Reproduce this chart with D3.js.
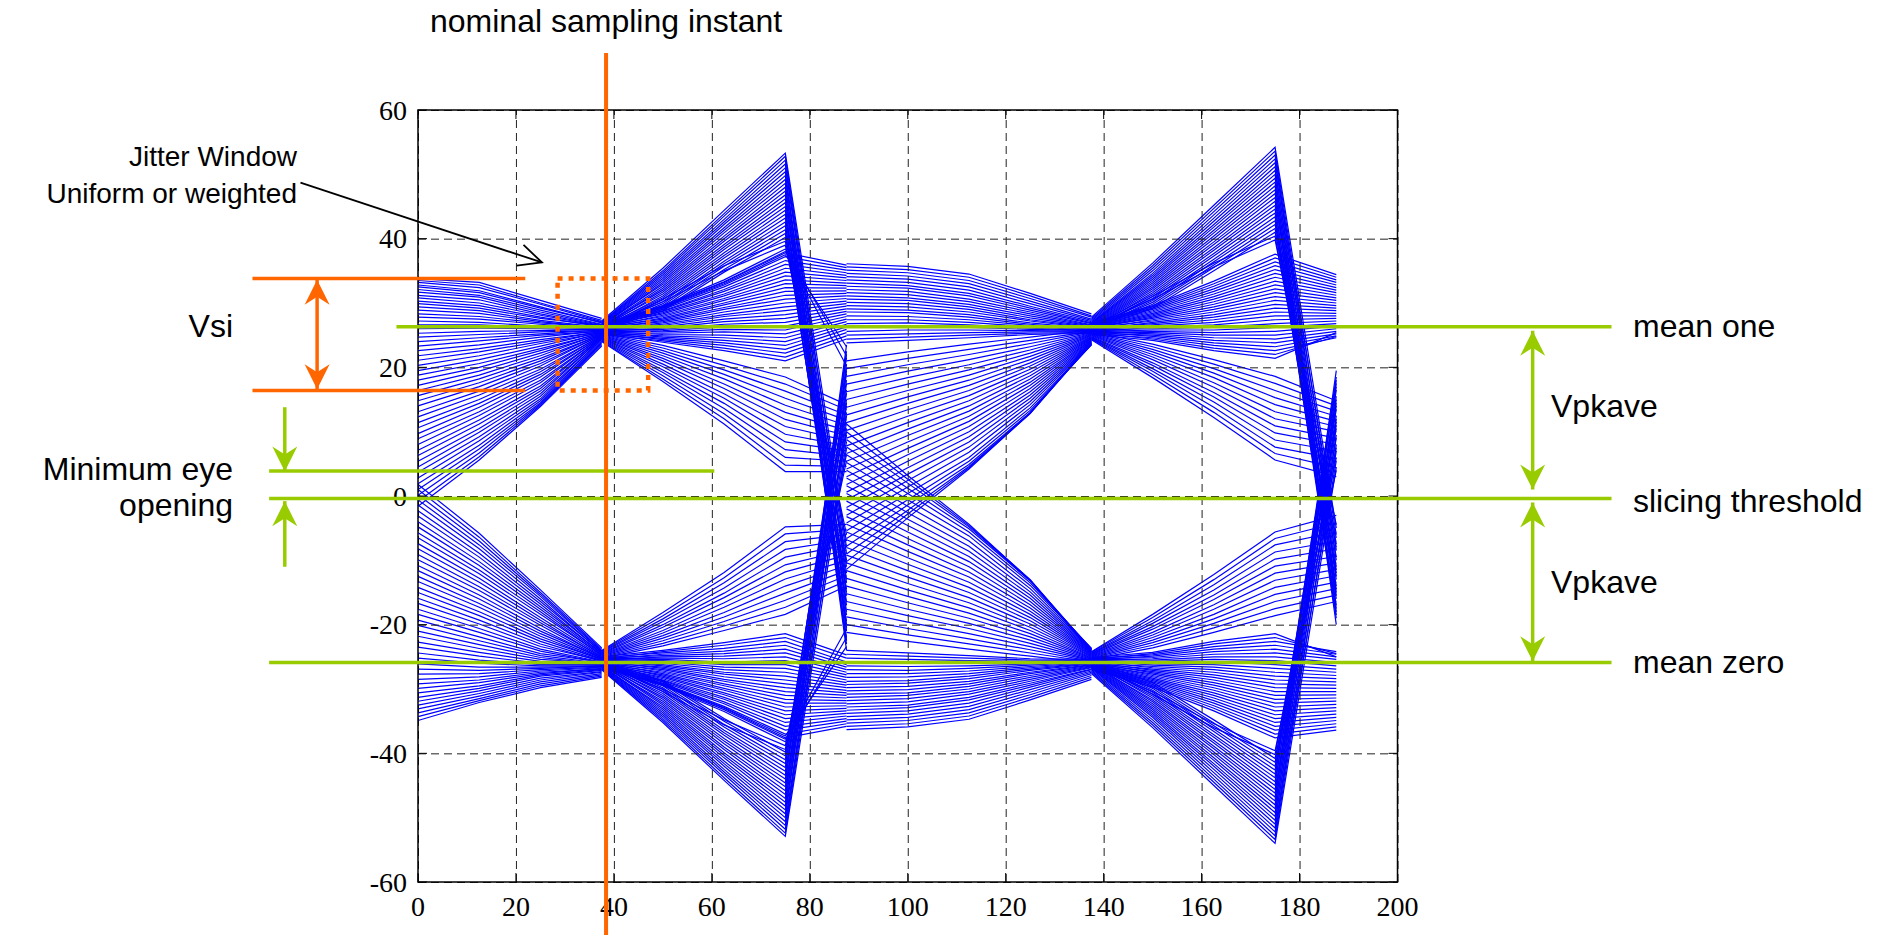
<!DOCTYPE html>
<html>
<head>
<meta charset="utf-8">
<script src="https://cdn.jsdelivr.net/npm/d3@7"></script>
<style>
  body { margin: 0; background: #fff; overflow: hidden; }
  svg { display: block; }
  .note { font-family: "Liberation Sans", Arial, sans-serif; font-size: 32px; fill: #000; }
  .note.small { font-size: 28px; }
  .tick-label { font-family: "Liberation Serif", "Times New Roman", Times, "DejaVu Serif", serif; font-size: 28px; fill: #000; }
</style>
</head>
<body>
<svg id="chart" width="1885" height="935"></svg>
<script>
// sample instants of the four trace segments (converge / diverge+edge)
const sampleA = [0, 12.5, 25, 37.5];
const sampleB = [37.5, 50, 62.5, 75, 87.5];
const sampleD = [87.5, 100, 112.5, 125, 137.5];
const sampleE = [137.5, 150, 162.5, 175, 187.5];

// traces, one row per trace
const tracesA = [
  [33.8,33.2,30.4,27.6],[33.5,32.8,30.0,27.3],[33.2,32.4,29.8,27.1],[32.8,31.9,29.4,26.9],[32.5,31.6,29.2,27.0],
  [32.1,31.2,28.9,26.7],[31.7,30.9,28.6,26.6],[31.2,30.5,28.3,26.5],[30.8,30.0,28.1,26.4],[30.3,29.6,27.8,26.3],
  [29.9,29.2,27.6,26.5],[29.4,28.8,27.3,26.2],[28.9,28.4,27.1,26.1],[28.3,27.9,26.9,26.2],[27.8,27.5,26.7,26.0],
  [27.2,27.0,26.4,25.9],[26.6,26.6,26.2,26.0],[26.0,26.1,26.0,25.8],[25.3,25.6,25.7,25.9],[24.7,25.1,25.5,25.7],
  [24.0,24.6,25.2,25.8],[23.3,24.1,25.0,25.6],[22.6,23.5,24.7,25.7],[21.8,22.9,24.3,25.5],[21.1,22.4,24.0,25.6],
  [20.3,21.8,23.7,25.4],[19.5,21.2,23.3,25.5],[18.8,20.6,22.9,25.3],[18.0,20.0,22.6,25.4],[17.2,19.4,22.2,25.2],
  [16.4,18.8,21.8,25.3],[15.6,18.2,21.4,25.1],[14.8,17.6,21.0,25.2],[14.0,17.0,20.6,25.0],[13.1,16.3,20.2,25.1],
  [12.3,15.7,19.7,24.9],[11.4,15.0,19.3,25.0],[10.6,14.4,18.9,24.8],[9.7,13.8,18.5,24.9],[8.9,13.1,18.0,24.7],
  [8.0,12.5,17.6,24.8],[7.1,11.8,17.1,24.6],[6.3,11.2,16.7,24.7],[5.4,10.5,16.3,24.5],[4.5,9.9,15.9,24.6],
  [3.7,9.2,15.5,24.3],[2.8,8.6,15.1,24.4],[1.9,7.9,14.8,24.1],[1.0,7.3,14.5,23.9],[0.1,6.7,14.3,23.7],
  [-0.8,6.1,14.1,23.5],[-1.6,5.6,13.9,23.3],
  [1.8,-5.8,-14.6,-23.6],[1.0,-6.4,-15.0,-23.8],[0.2,-7.0,-15.3,-24.0],[-0.6,-7.6,-15.6,-24.1],[-1.4,-8.2,-16.0,-24.3],
  [-2.3,-8.9,-16.4,-24.2],[-3.1,-9.5,-16.8,-24.5],[-4.0,-10.2,-17.2,-24.4],[-4.8,-10.8,-17.6,-24.6],[-5.7,-11.5,-18.0,-24.8],
  [-6.5,-12.1,-18.4,-24.7],[-7.4,-12.8,-18.9,-24.9],[-8.2,-13.4,-19.3,-25.1],[-9.1,-14.1,-19.7,-25.0],[-9.9,-14.7,-20.1,-25.2],
  [-10.8,-15.4,-20.6,-25.3],[-11.6,-16.0,-21.0,-25.2],[-12.5,-16.7,-21.4,-25.4],[-13.3,-17.3,-21.8,-25.5],[-14.2,-18.0,-22.2,-25.4],
  [-15.0,-18.6,-22.6,-25.6],[-15.9,-19.3,-23.0,-25.7],[-16.7,-19.9,-23.4,-25.6],[-17.6,-20.6,-23.8,-25.8],[-18.4,-21.2,-24.1,-25.9],
  [-19.3,-21.9,-24.5,-25.8],[-20.1,-22.5,-24.8,-26.0],[-21.0,-23.1,-25.1,-26.1],[-21.8,-23.7,-25.4,-26.0],[-22.7,-24.3,-25.7,-26.2],
  [-23.5,-24.9,-26.0,-26.3],[-24.4,-25.5,-26.2,-26.2],[-25.2,-26.0,-26.4,-26.4],[-26.1,-26.6,-26.6,-26.5],[-26.9,-27.1,-26.8,-26.4],
  [-27.7,-27.6,-27.0,-26.6],[-28.5,-28.1,-27.2,-26.7],[-29.2,-28.6,-27.4,-26.9],[-29.9,-29.0,-27.6,-26.8],[-30.6,-29.5,-27.8,-27.0],
  [-31.3,-29.9,-28.0,-27.1],[-31.9,-30.3,-28.3,-27.3],[-32.5,-30.7,-28.6,-27.4],[-33.1,-31.1,-28.9,-27.6],[-33.7,-31.5,-29.2,-27.8],
  [-34.3,-31.8,-29.5,-28.0],[-34.9,-32.1,-29.8,-28.2]
];

const tracesB = [
  // ones falling at the edge
  [27.2,35.4,44.4,53.3,-8.0],[27.0,35.0,43.9,52.8,-10.5],[26.9,34.7,43.5,52.2,-13.0],[26.8,34.4,43.0,51.6,-15.5],
  [26.7,34.1,42.6,51.0,-9.0],[26.6,33.8,42.2,50.4,-18.0],[26.5,33.5,41.7,49.8,-20.5],[26.4,33.2,41.3,49.2,-12.0],
  [26.6,32.9,40.9,48.6,-22.5],[26.3,32.6,40.4,48.0,-14.5],[26.2,32.3,40.0,47.4,-24.0],[26.4,32.0,39.6,46.8,-16.5],
  [26.1,31.7,39.1,46.2,-21.0],[26.3,31.4,38.7,45.6,-11.0],[26.0,31.1,38.3,45.0,-23.0],[26.2,30.8,37.8,44.4,-17.0],
  [25.9,30.5,37.4,43.8,-19.5],[26.1,30.2,37.0,43.2,-13.5],[25.8,29.9,36.5,42.6,-22.0],[26.0,29.6,36.1,42.0,-15.0],
  [25.9,29.3,35.7,41.4,-20.0],[26.1,29.0,35.2,40.8,-18.5],[25.8,28.8,34.8,40.2,-7.0],[26.0,30.6,35.8,39.6,-10.0],
  [26.2,30.2,35.0,39.0,-6.0],
  // ones staying high
  [26.6,29.4,33.2,37.8,35.9],[26.5,29.2,32.8,37.2,35.5],[26.4,29.0,32.5,36.6,35.1],[26.3,28.8,32.1,36.0,34.7],
  [26.5,28.7,31.8,35.4,34.3],[26.2,28.5,31.4,34.8,33.9],[26.4,28.3,31.1,34.2,33.5],[26.1,28.1,30.7,33.6,33.1],
  [26.3,27.9,30.4,33.0,32.7],[26.0,27.7,30.0,32.4,32.3],[26.2,27.5,29.7,31.8,31.9],[25.9,27.3,29.3,31.2,31.5],
  [26.1,27.1,29.0,30.6,31.1],[25.8,26.9,28.6,30.0,30.7],[26.0,26.7,28.2,29.4,30.3],[25.7,26.5,27.9,28.8,29.9],
  [25.9,26.3,27.5,28.2,29.5],[25.6,26.1,27.1,27.6,29.1],[25.8,25.9,26.7,27.0,28.7],[25.5,25.7,26.3,26.4,28.3],
  [25.7,25.5,25.9,25.8,27.9],[25.4,25.3,25.5,25.2,27.5],[25.6,25.1,25.0,24.6,27.1],[25.3,24.9,24.6,24.0,26.7],
  [25.5,24.7,24.2,23.4,26.3],[25.2,24.5,23.8,22.8,25.9],[25.4,24.3,23.4,22.2,25.4],[25.1,24.1,23.0,21.6,24.9],
  [25.3,23.9,22.6,21.0,24.4],[26.7,29.6,33.6,38.4,21.8],[26.6,29.5,33.3,38.0,20.2],[26.5,29.3,33.0,37.5,23.2],
  // ones sagging
  [25.3,23.4,21.0,18.5,14.2],[25.2,23.0,20.3,17.4,13.4],[25.1,22.6,19.6,16.3,12.6],[25.0,22.2,18.9,15.2,11.8],
  [24.9,21.8,18.2,14.1,11.0],[24.8,21.4,17.4,13.0,10.2],[24.7,21.0,16.7,11.9,9.4],[24.6,20.5,15.9,10.8,8.6],
  [24.5,20.1,15.2,9.6,7.8],[24.4,19.6,14.4,8.4,7.0],[24.3,19.2,13.6,7.2,6.2],[24.2,18.7,12.8,6.0,5.4],
  [24.1,18.2,12.0,4.8,4.6],[24.0,17.8,11.2,3.8,3.8],
  // zeros rising at the edge
  [-27.0,-35.2,-44.2,-52.9,7.5],[-26.9,-34.9,-43.8,-52.4,10.0],[-26.8,-34.6,-43.3,-51.8,12.5],[-26.7,-34.3,-42.9,-51.2,15.0],
  [-26.6,-34.0,-42.5,-50.6,8.5],[-26.5,-33.7,-42.0,-50.0,17.5],[-26.4,-33.4,-41.6,-49.4,20.0],[-26.3,-33.1,-41.2,-48.8,11.5],
  [-26.5,-32.8,-40.7,-48.2,22.0],[-26.2,-32.5,-40.3,-47.6,14.0],[-26.1,-32.2,-39.9,-47.0,23.5],[-26.3,-31.9,-39.4,-46.4,16.0],
  [-26.0,-31.6,-39.0,-45.8,20.5],[-26.2,-31.3,-38.5,-45.2,10.5],[-25.9,-31.0,-38.1,-44.6,22.5],[-26.1,-30.7,-37.7,-44.0,16.5],
  [-25.8,-30.4,-37.2,-43.4,19.0],[-26.0,-30.1,-36.8,-42.8,13.0],[-25.7,-29.8,-36.4,-42.2,21.5],[-25.9,-29.5,-35.9,-41.6,14.5],
  [-25.8,-29.2,-35.5,-41.0,19.5],[-26.0,-28.9,-35.0,-40.4,18.0],[-25.7,-28.7,-34.6,-39.8,6.5],[-25.9,-30.4,-35.6,-39.4,9.5],
  [-26.1,-30.0,-34.8,-38.8,5.5],
  // zeros staying low
  [-26.5,-29.3,-33.0,-37.6,-35.8],[-26.4,-29.1,-32.7,-37.0,-35.4],[-26.3,-28.9,-32.3,-36.4,-35.0],[-26.2,-28.7,-32.0,-35.8,-34.6],
  [-26.4,-28.6,-31.6,-35.2,-34.2],[-26.1,-28.4,-31.3,-34.6,-33.8],[-26.3,-28.2,-30.9,-34.0,-33.4],[-26.0,-28.0,-30.6,-33.4,-33.0],
  [-26.2,-27.8,-30.2,-32.8,-32.6],[-25.9,-27.6,-29.9,-32.2,-32.2],[-26.1,-27.4,-29.5,-31.6,-31.8],[-25.8,-27.2,-29.2,-31.0,-31.4],
  [-26.0,-27.0,-28.8,-30.4,-31.0],[-25.7,-26.8,-28.5,-29.8,-30.6],[-25.9,-26.6,-28.1,-29.2,-30.2],[-25.6,-26.4,-27.7,-28.6,-29.8],
  [-25.8,-26.2,-27.4,-28.0,-29.4],[-25.5,-26.0,-27.0,-27.4,-29.0],[-25.7,-25.8,-26.6,-26.8,-28.6],[-25.4,-25.6,-26.2,-26.2,-28.2],
  [-25.6,-25.4,-25.8,-25.6,-27.8],[-25.3,-25.2,-25.3,-25.0,-27.4],[-25.5,-25.0,-24.9,-24.4,-27.0],[-25.2,-24.8,-24.5,-23.8,-26.6],
  [-25.4,-24.6,-24.1,-23.2,-26.2],[-25.1,-24.4,-23.7,-22.6,-25.8],[-25.3,-24.2,-23.2,-22.0,-25.2],[-25.0,-24.0,-22.8,-21.4,-24.7],
  [-26.6,-29.5,-33.5,-38.2,-22.0],[-26.5,-29.4,-33.2,-37.8,-20.6],[-26.4,-29.2,-32.9,-37.3,-23.4],
  // zeros sagging
  [-25.2,-23.3,-20.9,-18.4,-14.0],[-25.1,-22.9,-20.2,-17.3,-13.2],[-25.0,-22.5,-19.5,-16.2,-12.4],[-24.9,-22.1,-18.8,-15.1,-11.6],
  [-24.8,-21.7,-18.1,-14.0,-10.8],[-24.7,-21.3,-17.3,-12.9,-10.0],[-24.6,-20.9,-16.6,-11.8,-9.2],[-24.5,-20.4,-15.8,-10.7,-8.4],
  [-24.4,-20.0,-15.1,-9.5,-7.6],[-24.3,-19.5,-14.3,-8.3,-6.8],[-24.2,-19.1,-13.5,-7.1,-6.0],[-24.1,-18.6,-12.7,-5.9,-5.2],
  [-24.0,-18.1,-11.9,-4.8,-4.4]
];

const tracesD = [
  [36.1,35.7,34.5,31.5,28.3],[35.6,35.2,34.0,31.1,28.0],[35.1,34.7,33.5,30.7,27.8],[34.6,34.2,33.0,30.3,27.5],
  [34.1,33.7,32.5,29.9,27.3],[33.6,33.2,32.0,29.5,27.1],[33.1,32.7,31.5,29.2,26.9],[32.6,32.3,31.1,28.9,26.8],
  [32.1,31.8,30.6,28.6,26.6],[31.6,31.3,30.2,28.3,26.5],[31.1,30.8,29.8,28.0,26.4],[30.6,30.4,29.4,27.7,26.3],
  [30.1,29.9,29.0,27.4,26.2],[29.6,29.4,28.6,27.2,26.1],[29.1,28.9,28.2,26.9,26.0],[28.6,28.5,27.8,26.7,25.9],
  [28.0,27.9,27.4,26.5,25.9],[27.4,27.4,27.0,26.3,25.8],[26.8,26.9,26.6,26.1,25.7],[26.2,26.3,26.2,25.9,25.7],
  [25.6,25.8,25.8,25.7,25.6],[25.0,25.2,25.4,25.5,25.5],[24.4,24.7,25.0,25.3,25.4],[23.8,24.2,24.6,25.1,25.3],
  [21.0,22.4,23.6,24.7,25.8],[19.8,21.4,22.8,24.2,25.6],[18.6,20.4,22.0,23.7,25.5],[17.4,19.4,21.2,23.2,25.4],
  [16.2,18.4,20.4,22.7,25.3],[15.0,17.4,19.6,22.2,25.2],[13.8,16.4,18.8,21.7,25.1],[12.6,15.4,18.0,21.2,25.0],
  [11.4,14.4,17.2,20.7,24.9],[10.2,13.4,16.4,20.2,24.8],[9.0,12.4,15.6,19.7,24.7],[7.8,11.4,14.8,19.2,24.6],
  [6.6,10.4,14.0,18.7,24.5],[5.4,9.4,13.2,18.2,24.4],[4.2,8.4,12.4,17.7,24.3],[3.0,7.4,11.6,17.2,24.2],
  [1.8,6.4,10.8,16.7,24.1],[0.6,5.4,10.0,16.2,24.0],[-0.6,4.4,9.2,15.7,23.9],[-1.8,3.4,8.4,15.2,23.8],
  [-3.0,2.4,7.6,14.7,23.7],[-4.2,1.4,6.8,14.2,23.6],[-5.4,0.4,6.0,13.7,23.5],[-6.6,-0.6,5.4,13.3,23.5],
  [-7.8,-1.4,4.9,13.0,23.6],[-9.0,-2.2,4.6,12.9,23.7],[-10.2,-2.8,4.4,12.8,23.8],[-11.4,-3.4,4.2,12.9,24.0],
  [-36.3,-35.9,-34.7,-31.7,-28.5],[-35.8,-35.4,-34.2,-31.3,-28.2],[-35.3,-34.9,-33.7,-30.9,-27.9],[-34.8,-34.4,-33.2,-30.5,-27.6],
  [-34.3,-33.9,-32.7,-30.1,-27.4],[-33.8,-33.4,-32.2,-29.7,-27.2],[-33.3,-32.9,-31.7,-29.4,-27.0],[-32.8,-32.5,-31.3,-29.1,-26.9],
  [-32.3,-32.0,-30.8,-28.8,-26.7],[-31.8,-31.5,-30.4,-28.5,-26.6],[-31.3,-31.0,-30.0,-28.2,-26.5],[-30.8,-30.6,-29.6,-27.9,-26.4],
  [-30.3,-30.1,-29.2,-27.6,-26.3],[-29.8,-29.6,-28.8,-27.4,-26.2],[-29.3,-29.1,-28.4,-27.1,-26.1],[-28.8,-28.7,-28.0,-26.9,-26.0],
  [-28.2,-28.1,-27.6,-26.7,-26.0],[-27.6,-27.6,-27.2,-26.5,-25.9],[-27.0,-27.1,-26.8,-26.3,-25.8],[-26.4,-26.5,-26.4,-26.1,-25.8],
  [-25.8,-26.0,-26.0,-25.9,-25.7],[-25.2,-25.4,-25.6,-25.7,-25.6],[-24.6,-24.9,-25.2,-25.5,-25.5],[-24.0,-24.4,-24.8,-25.3,-25.4],
  [-21.2,-22.6,-23.8,-24.9,-26.0],[-20.0,-21.6,-23.0,-24.4,-25.8],[-18.8,-20.6,-22.2,-23.9,-25.7],[-17.6,-19.6,-21.4,-23.4,-25.6],
  [-16.4,-18.6,-20.6,-22.9,-25.5],[-15.2,-17.6,-19.8,-22.4,-25.4],[-14.0,-16.6,-19.0,-21.9,-25.3],[-12.8,-15.6,-18.2,-21.4,-25.2],
  [-11.6,-14.6,-17.4,-20.9,-25.1],[-10.4,-13.6,-16.6,-20.4,-25.0],[-9.2,-12.6,-15.8,-19.9,-24.9],[-8.0,-11.6,-15.0,-19.4,-24.8],
  [-6.8,-10.6,-14.2,-18.9,-24.7],[-5.6,-9.6,-13.4,-18.4,-24.6],[-4.4,-8.6,-12.6,-17.9,-24.5],[-3.2,-7.6,-11.8,-17.4,-24.4],
  [-2.0,-6.6,-11.0,-16.9,-24.3],[-0.8,-5.6,-10.2,-16.4,-24.2],[0.4,-4.6,-9.4,-15.9,-24.1],[1.6,-3.6,-8.6,-15.4,-24.0],
  [2.8,-2.6,-7.8,-14.9,-23.9],[4.0,-1.6,-7.0,-14.4,-23.8],[5.2,-0.6,-6.2,-13.9,-23.7],[6.4,0.4,-5.6,-13.5,-23.7],
  [7.6,1.2,-5.1,-13.2,-23.8],[8.8,2.0,-4.8,-13.1,-23.9],[10.0,2.6,-4.6,-13.0,-24.0],[11.2,3.2,-4.4,-13.1,-24.2]
];

const tracesE = [
  [27.8,36.2,45.2,54.2,-5.0],[27.6,35.8,44.7,53.6,-7.5],[27.4,35.4,44.2,53.0,-10.0],[27.2,35.0,43.7,52.4,-12.5],
  [27.0,34.6,43.2,51.8,-6.0],[26.9,34.3,42.7,51.2,-15.0],[26.8,34.0,42.2,50.6,-8.5],[26.7,33.7,41.8,50.0,-17.0],
  [26.6,33.4,41.3,49.4,-11.0],[26.5,33.1,40.9,48.8,-18.5],[26.4,32.8,40.4,48.2,-13.0],[26.3,32.5,40.0,47.6,-20.0],
  [26.2,32.2,39.5,47.0,-14.0],[26.1,31.9,39.1,46.4,-16.0],[26.0,31.6,38.6,45.8,-9.5],[26.2,31.3,38.2,45.2,-18.0],
  [25.9,31.0,37.7,44.6,-12.0],[26.1,30.7,37.3,44.0,-19.0],[25.8,30.4,36.8,43.4,-15.5],[26.0,30.1,36.4,42.8,-17.5],
  [25.9,29.8,35.9,42.2,-8.0],[26.1,29.5,35.5,41.6,-14.5],[25.8,29.2,35.0,41.0,-4.5],[26.0,31.0,36.2,40.4,-11.5],
  [26.2,30.6,35.6,39.8,-6.5],
  [26.9,29.6,33.4,37.6,34.4],[26.8,29.4,33.0,37.0,34.0],[26.7,29.2,32.6,36.4,33.6],[26.6,29.0,32.2,35.8,33.2],
  [26.5,28.8,31.8,35.2,32.8],[26.4,28.6,31.4,34.6,32.4],[26.3,28.4,31.0,34.0,32.0],[26.2,28.2,30.6,33.4,31.6],
  [26.1,28.0,30.2,32.8,31.2],[26.0,27.8,29.8,32.2,30.8],[26.2,27.6,29.4,31.6,30.4],[25.9,27.4,29.0,31.0,30.0],
  [26.1,27.2,28.6,30.4,29.6],[25.8,27.0,28.2,29.8,29.2],[26.0,26.8,27.8,29.2,28.8],[25.7,26.6,27.4,28.6,28.4],
  [25.9,26.4,27.0,28.0,28.0],[25.6,26.2,26.6,27.4,27.6],[25.8,26.0,26.2,26.8,27.2],[25.5,25.8,25.8,26.2,26.8],
  [25.7,25.6,25.4,25.6,26.4],[25.4,25.4,25.0,25.0,26.0],[25.6,25.2,24.6,24.4,25.6],[25.3,25.0,24.2,23.8,25.2],
  [25.5,24.8,23.8,23.2,24.9],[25.2,24.6,23.4,22.6,24.6],[25.4,24.4,23.0,22.0,24.8],[25.1,24.2,22.6,21.4,25.4],
  [25.5,23.6,21.2,18.6,14.8],[25.4,23.2,20.5,17.5,14.0],[25.3,22.8,19.8,16.4,13.2],[25.2,22.4,19.1,15.3,12.4],
  [25.1,22.0,18.4,14.2,11.6],[25.0,21.6,17.6,13.1,10.8],[24.9,21.2,16.9,12.0,10.0],[24.8,20.7,16.1,10.9,9.0],
  [24.7,20.3,15.4,9.8,8.0],[24.6,19.8,14.6,8.7,7.0],[24.5,19.4,13.8,7.6,5.8],[24.4,18.9,13.0,6.6,4.4],
  [24.3,18.4,12.2,5.6,3.0],
  [-27.6,-36.0,-45.0,-54.0,4.5],[-27.4,-35.6,-44.5,-53.4,7.0],[-27.2,-35.2,-44.0,-52.8,9.5],[-27.0,-34.8,-43.5,-52.2,12.0],
  [-26.8,-34.4,-43.0,-51.6,5.5],[-26.7,-34.1,-42.5,-51.0,14.5],[-26.6,-33.8,-42.0,-50.4,8.0],[-26.5,-33.5,-41.6,-49.8,16.5],
  [-26.4,-33.2,-41.1,-49.2,10.5],[-26.3,-32.9,-40.7,-48.6,18.0],[-26.2,-32.6,-40.2,-48.0,12.5],[-26.1,-32.3,-39.8,-47.4,19.5],
  [-26.0,-32.0,-39.3,-46.8,13.5],[-26.2,-31.7,-38.9,-46.2,15.5],[-25.9,-31.4,-38.4,-45.6,9.0],[-26.1,-31.1,-38.0,-45.0,17.5],
  [-25.8,-30.8,-37.5,-44.4,11.5],[-26.0,-30.5,-37.1,-43.8,18.5],[-25.7,-30.2,-36.6,-43.2,15.0],[-25.9,-29.9,-36.2,-42.6,17.0],
  [-25.8,-29.6,-35.7,-42.0,7.5],[-26.0,-29.3,-35.3,-41.4,14.0],[-25.7,-29.0,-34.8,-40.8,4.0],[-25.9,-30.8,-36.0,-40.2,11.0],
  [-26.1,-30.4,-35.4,-39.6,6.0],
  [-26.9,-29.7,-33.4,-37.6,-36.4],[-26.8,-29.5,-33.0,-37.0,-35.9],[-26.7,-29.3,-32.6,-36.4,-35.4],[-26.6,-29.1,-32.2,-35.8,-34.9],
  [-26.5,-28.9,-31.8,-35.2,-34.4],[-26.4,-28.7,-31.4,-34.6,-33.9],[-26.3,-28.5,-31.0,-34.0,-33.4],[-26.2,-28.3,-30.6,-33.4,-32.9],
  [-26.1,-28.1,-30.2,-32.8,-32.4],[-26.0,-27.9,-29.8,-32.2,-31.9],[-26.2,-27.7,-29.4,-31.6,-31.4],[-25.9,-27.5,-29.0,-31.0,-30.9],
  [-26.1,-27.3,-28.6,-30.4,-30.4],[-25.8,-27.1,-28.2,-29.8,-29.9],[-26.0,-26.9,-27.8,-29.2,-29.4],[-25.7,-26.7,-27.4,-28.6,-28.9],
  [-25.9,-26.5,-27.0,-28.0,-28.4],[-25.6,-26.3,-26.6,-27.4,-27.9],[-25.8,-26.1,-26.2,-26.8,-27.4],[-25.5,-25.9,-25.8,-26.2,-26.9],
  [-25.7,-25.7,-25.4,-25.6,-26.4],[-25.4,-25.5,-25.0,-25.0,-25.9],[-25.6,-25.3,-24.6,-24.4,-25.4],[-25.3,-25.1,-24.2,-23.8,-25.0],
  [-25.5,-24.9,-23.8,-23.2,-24.6],[-25.2,-24.7,-23.4,-22.6,-24.2],[-25.4,-24.5,-23.0,-22.0,-24.5],[-25.1,-24.3,-22.6,-21.4,-25.0],
  [-25.4,-23.6,-21.2,-18.6,-16.4],[-25.3,-23.2,-20.5,-17.5,-15.4],[-25.2,-22.8,-19.8,-16.4,-14.4],[-25.1,-22.4,-19.1,-15.3,-13.4],
  [-25.0,-22.0,-18.4,-14.2,-12.4],[-24.9,-21.6,-17.6,-13.1,-11.4],[-24.8,-21.2,-16.9,-12.0,-10.4],[-24.7,-20.7,-16.1,-10.9,-9.4],
  [-24.6,-20.3,-15.4,-9.8,-8.2],[-24.5,-19.8,-14.6,-8.7,-7.0],[-24.4,-19.4,-13.8,-7.6,-5.6],[-24.3,-18.9,-13.0,-6.6,-4.2],
  [-24.2,-18.4,-12.2,-5.6,-3.0]
];

const xTicks = [0, 20, 40, 60, 80, 100, 120, 140, 160, 180, 200];
const yTicks = [-60, -40, -20, 0, 20, 40, 60];

// annotation levels, in data units
const meanOne = 26.3;
const meanZero = -25.9;
const threshold = -0.4;
const minEye = 3.9;
const vsiTop = 33.8;
const vsiBottom = 16.4;
const samplingInstant = 38.4;
const jitterX = [28.5, 47];

const green = '#99cc00';
const orange = '#ff6600';

const svg = d3.select('#chart');
const margin = {left: 418, top: 110, right: 487.5, bottom: 53};
const width = 1885, height = 935;
const innerWidth = width - margin.left - margin.right;
const innerHeight = height - margin.top - margin.bottom;

const xScale = d3.scaleLinear().domain([0, 200]).range([margin.left, margin.left + innerWidth]);
const yScale = d3.scaleLinear().domain([-60, 60]).range([margin.top + innerHeight, margin.top]);

// traces
const traceLine = xs => d3.line().x((d, i) => xScale(xs[i])).y(d => yScale(d));
const traceG = svg.append('g').attr('fill', 'none').attr('stroke', '#0000ff').attr('stroke-width', 1.2);
[[tracesA, sampleA], [tracesB, sampleB], [tracesD, sampleD], [tracesE, sampleE]].forEach(([rows, xs]) => {
  traceG.append('g').selectAll('path').data(rows).enter().append('path')
    .attr('d', traceLine(xs));
});

// dashed grid
const yAxis = d3.axisLeft(yScale).tickValues(yTicks).tickSize(-innerWidth).tickFormat('');
const yAxisG = svg.append('g').attr('transform', `translate(${margin.left},0)`).call(yAxis);
yAxisG.select('.domain').remove();

const xAxis = d3.axisBottom(xScale).tickValues(xTicks).tickSize(-innerHeight).tickFormat('');
const xAxisG = svg.append('g').attr('transform', `translate(0,${margin.top + innerHeight})`).call(xAxis);
xAxisG.select('.domain').remove();

[yAxisG, xAxisG].forEach(g => {
  g.selectAll('text').remove();
  g.selectAll('line').attr('stroke', '#222').attr('stroke-width', 1).attr('stroke-dasharray', '8,5');
});

// tick labels
svg.append('g').selectAll('text').data(yTicks).enter().append('text')
  .attr('class', 'tick-label')
  .attr('x', xScale(0) - 11).attr('y', d => yScale(d) + 9.5)
  .attr('text-anchor', 'end').text(d => String(d));
svg.append('g').selectAll('text').data(xTicks).enter().append('text')
  .attr('class', 'tick-label')
  .attr('x', d => xScale(d)).attr('y', yScale(-60) + 33.5)
  .attr('text-anchor', 'middle').text(d => String(d));

// inner tick marks on all four sides
const tickLen = 9;
const tickG = svg.append('g').attr('stroke', '#000').attr('stroke-width', 1);
yTicks.forEach(v => {
  tickG.append('line').attr('x1', xScale(0)).attr('x2', xScale(0) + tickLen).attr('y1', yScale(v)).attr('y2', yScale(v));
  tickG.append('line').attr('x1', xScale(200)).attr('x2', xScale(200) - tickLen).attr('y1', yScale(v)).attr('y2', yScale(v));
});
xTicks.forEach(v => {
  tickG.append('line').attr('x1', xScale(v)).attr('x2', xScale(v)).attr('y1', yScale(-60)).attr('y2', yScale(-60) - tickLen);
  tickG.append('line').attr('x1', xScale(v)).attr('x2', xScale(v)).attr('y1', yScale(60)).attr('y2', yScale(60) + tickLen);
});

svg.append('rect')
  .attr('x', xScale(0)).attr('y', yScale(60))
  .attr('width', innerWidth).attr('height', innerHeight)
  .attr('fill', 'none').attr('stroke', '#000').attr('stroke-width', 1.5);

// annotations
const ann = svg.append('g');

const hLine = (x0, x1, y, color) => ann.append('line')
  .attr('x1', xScale(x0)).attr('x2', xScale(x1))
  .attr('y1', yScale(y)).attr('y2', yScale(y))
  .attr('stroke', color).attr('stroke-width', 3.5);

// filled arrow head, tip at (px,py), pointing along angle (deg)
const head = (px, py, angle, color) => ann.append('path')
  .attr('d', 'M0,0 L-25,-12.5 L-17,0 L-25,12.5 Z')
  .attr('fill', color)
  .attr('transform', `translate(${px},${py}) rotate(${angle})`);

const vArrow = (x, yFrom, yTo, color, both) => {
  const px = xScale(x);
  ann.append('line').attr('x1', px).attr('x2', px)
    .attr('y1', yScale(yFrom)).attr('y2', yScale(yTo))
    .attr('stroke', color).attr('stroke-width', 3.5);
  const down = yScale(yTo) > yScale(yFrom);
  head(px, yScale(yTo), down ? 90 : -90, color);
  if (both) head(px, yScale(yFrom), down ? -90 : 90, color);
};

hLine(-4.4, 243.7, meanOne, green);
hLine(-30.4, 243.7, threshold, green);
hLine(-30.4, 243.7, meanZero, green);
hLine(-30.4, 60.5, minEye, green);

hLine(-33.8, 21.9, vsiTop, orange);
hLine(-33.8, 21.9, vsiBottom, orange);
vArrow(-20.6, vsiTop - 0.2, vsiBottom + 0.2, orange, true);

vArrow(-27.2, 13.8, minEye - 0.1, green, false);
vArrow(-27.2, -11.0, threshold - 0.4, green, false);

vArrow(227.6, meanOne - 0.6, threshold + 1.4, green, true);
vArrow(227.6, threshold - 0.6, meanZero + 0.2, green, true);

// jitter window
ann.append('rect')
  .attr('x', xScale(jitterX[0])).attr('y', yScale(vsiTop))
  .attr('width', xScale(jitterX[1]) - xScale(jitterX[0]))
  .attr('height', yScale(vsiBottom) - yScale(vsiTop))
  .attr('fill', 'none').attr('stroke', orange).attr('stroke-width', 4.5)
  .attr('stroke-dasharray', '5,6');

// nominal sampling instant
ann.append('line')
  .attr('x1', xScale(samplingInstant)).attr('x2', xScale(samplingInstant))
  .attr('y1', 53).attr('y2', height)
  .attr('stroke', orange).attr('stroke-width', 4);

// pointer to jitter window
const p0 = [xScale(-24.0), yScale(48.7)], p1 = [xScale(25.3), yScale(36.3)];
const ang = Math.atan2(p1[1] - p0[1], p1[0] - p0[0]) * 180 / Math.PI;
ann.append('line').attr('x1', p0[0]).attr('y1', p0[1]).attr('x2', p1[0]).attr('y2', p1[1])
  .attr('stroke', '#000').attr('stroke-width', 1.8);
ann.append('path').attr('d', 'M-23,-11 L0,0 L-23,11').attr('fill', 'none')
  .attr('stroke', '#000').attr('stroke-width', 1.8)
  .attr('transform', `translate(${p1[0]},${p1[1]}) rotate(${ang})`);

const note = (txt, x, y, anchor, cls) => ann.append('text').attr('class', cls || 'note')
  .attr('x', x).attr('y', y).attr('text-anchor', anchor).text(txt);

note('nominal sampling instant', xScale(samplingInstant), 32, 'middle');
note('Jitter Window', 297, 166, 'end', 'note small');
note('Uniform or weighted', 297, 203, 'end', 'note small');
note('Vsi', 233, 337, 'end');
note('Minimum eye', 233, 480, 'end');
note('opening', 233, 516, 'end');
note('Vpkave', 1551, 417, 'start');
note('Vpkave', 1551, 593, 'start');
note('mean one', 1633, 337, 'start');
note('slicing threshold', 1633, 512, 'start');
note('mean zero', 1633, 673, 'start');
</script>
</body>
</html>
